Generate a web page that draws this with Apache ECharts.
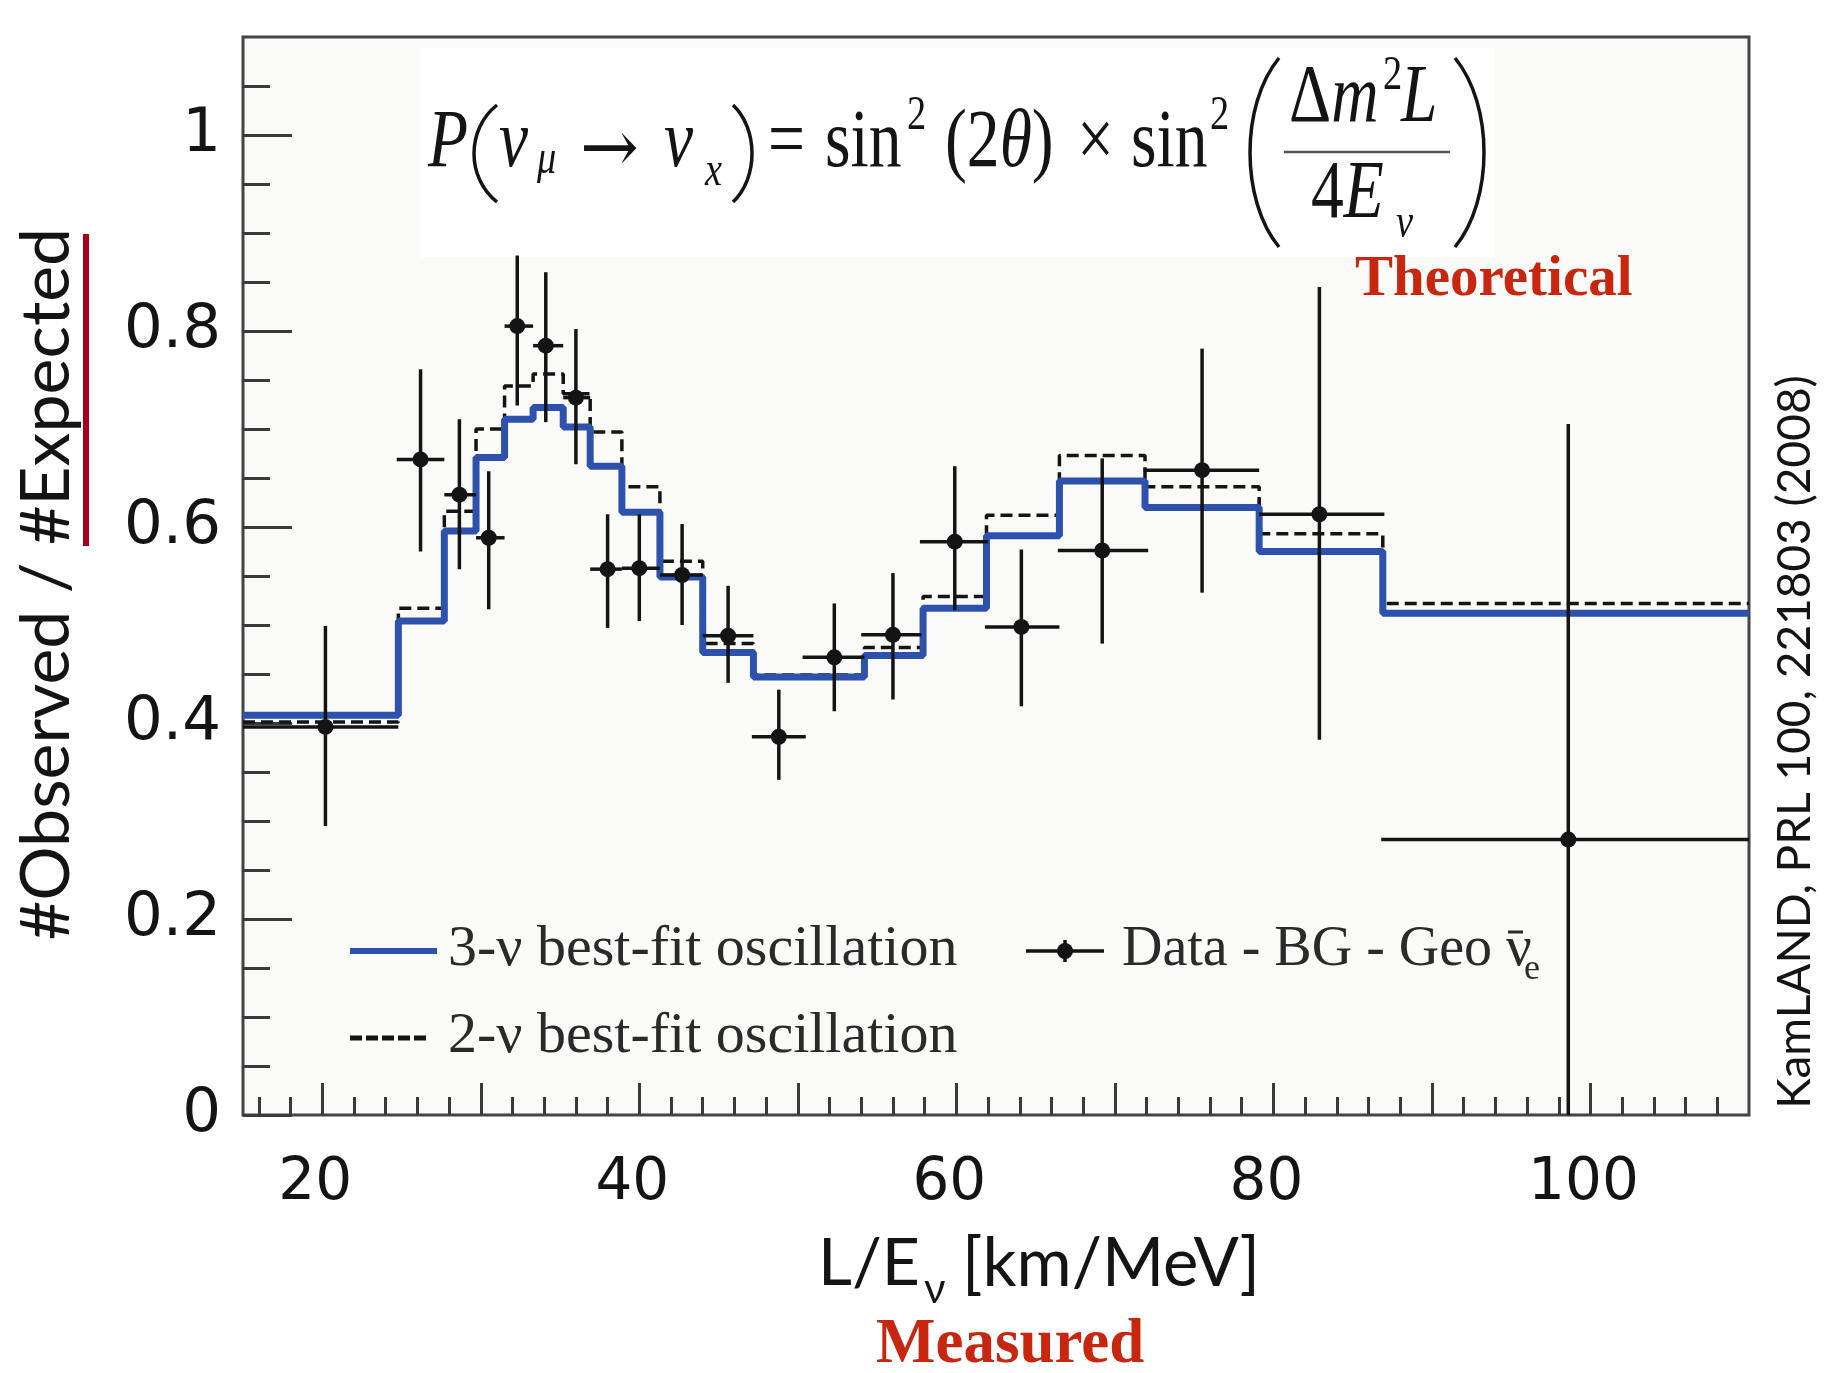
<!DOCTYPE html>
<html>
<head>
<meta charset="utf-8">
<script src="https://cdn.jsdelivr.net/npm/echarts@6/dist/echarts.min.js"></script>
<style>
  html, body { margin: 0; padding: 0; background: #ffffff; }
  #chart { width: 1832px; height: 1373px; }
</style>
</head>
<body>
<div id="chart"></div>
<script>
// KamLAND reactor anti-neutrino survival ratio versus L/E (km/MeV)

// Bin edges of the oscillation predictions
const binEdges = [15, 24.8, 27.7, 29.7, 31.5, 33.3, 35.2, 36.9, 38.9, 41.3, 44.0, 47.2, 54.2, 57.9, 61.9, 66.5, 71.9, 79.1, 86.9, 110];
// 3-flavour best fit, one value per bin
const threeNuFit = [0.408, 0.504, 0.596, 0.671, 0.710, 0.722, 0.702, 0.662, 0.615, 0.549, 0.472, 0.447, 0.469, 0.517, 0.591, 0.647, 0.620, 0.575, 0.512];
// 2-flavour best fit, one value per bin
const twoNuFit = [0.401, 0.517, 0.616, 0.700, 0.744, 0.756, 0.736, 0.697, 0.641, 0.565, 0.481, 0.449, 0.477, 0.529, 0.612, 0.673, 0.641, 0.593, 0.522];

// Data - BG - Geo anti-nu_e : central values and error-bar extents
const dataX   = [20.2, 26.2, 28.65, 30.5, 32.3, 34.1, 36.0, 38.0, 40.0, 42.7, 45.6, 48.8, 52.3, 56.0, 59.9, 64.1, 69.2, 75.5, 82.9, 98.6];
const dataY   = [0.396, 0.669, 0.633, 0.589, 0.805, 0.785, 0.732, 0.557, 0.558, 0.551, 0.489, 0.386, 0.467, 0.490, 0.585, 0.498, 0.576, 0.658, 0.613, 0.281];
const dataXLo = [15, 24.7, 27.7, 29.7, 31.5, 33.3, 35.2, 36.9, 38.9, 41.3, 44.0, 47.1, 50.3, 54.0, 57.7, 61.8, 66.4, 71.8, 79.1, 86.8];
const dataXHi = [24.8, 27.7, 29.7, 31.5, 33.3, 35.2, 36.9, 38.9, 41.3, 44.0, 47.2, 50.5, 54.2, 57.8, 62.0, 66.5, 72.1, 79.1, 87.0, 110];
const dataYLo = [0.295, 0.575, 0.557, 0.516, 0.724, 0.707, 0.664, 0.497, 0.504, 0.500, 0.441, 0.342, 0.412, 0.424, 0.515, 0.417, 0.481, 0.533, 0.383, 0];
const dataYHi = [0.499, 0.761, 0.710, 0.657, 0.877, 0.860, 0.802, 0.613, 0.613, 0.603, 0.540, 0.434, 0.522, 0.553, 0.662, 0.577, 0.670, 0.782, 0.845, 0.705];

// Axis ticks and labels
const xTickLabels = [20, 40, 60, 80, 100];
const xMajorTicks = [20, 30, 40, 50, 60, 70, 80, 90, 100];
const xMinorTicks = [16, 18, 22, 24, 26, 28, 32, 34, 36, 38, 42, 44, 46, 48, 52, 54, 56, 58, 62, 64, 66, 68, 72, 74, 76, 78, 82, 84, 86, 88, 92, 94, 96, 98, 102, 104, 106, 108];
const yTickLabels = [0, 0.2, 0.4, 0.6, 0.8, 1];
const yMajorTicks = [0, 0.2, 0.4, 0.6, 0.8, 1.0];
const yMinorTicks = [0.05, 0.1, 0.15, 0.25, 0.3, 0.35, 0.45, 0.5, 0.55, 0.65, 0.7, 0.75, 0.85, 0.9, 0.95, 1.05];

// histogram outline: a point at each left edge plus the closing right edge
function histogram(values) {
  return binEdges.map((e, i) => [e, values[Math.min(i, values.length - 1)]]);
}

const INK = '#141414';
const BLUE = '#2d51ad';
const SERIF = '"Liberation Serif", "Times New Roman", serif';
const SANS = 'Lato, "Open Sans", sans-serif';

function txt(x, y, text, size, opt) {
  opt = opt || {};
  return {
    type: 'text', x: x, y: y, z: 20,
    rotation: opt.rotation || 0,
    scaleX: opt.scaleX || 1,
    style: {
      text: text,
      fontSize: size,
      fontFamily: opt.family || SERIF,
      fontStyle: opt.italic ? 'italic' : 'normal',
      fontWeight: opt.bold ? 'bold' : 'normal',
      fill: opt.color || INK,
      align: opt.align || 'left',
      verticalAlign: 'middle',
      rich: opt.rich
    }
  };
}
function paren(x0, yTop, yBot, xBulge, w) {
  const cp = (xBulge - 0.25 * x0) / 0.75;
  return {
    type: 'bezierCurve', z: 20,
    shape: { x1: x0, y1: yTop, x2: x0, y2: yBot,
             cpx1: cp, cpy1: yTop + (yBot - yTop) * 0.25,
             cpx2: cp, cpy2: yTop + (yBot - yTop) * 0.75 },
    style: { stroke: INK, lineWidth: w || 3.5, fill: null }
  };
}

const F = 82, S = 48, SX = 0.8;
const richMain = {
  r: { fontFamily: SERIF, fontSize: F, fill: INK },
  i: { fontFamily: SERIF, fontSize: F, fontStyle: 'italic', fill: INK }
};
const LEG = '#2a2a2a';

const graphics = [
  // white panel behind the formula
  { type: 'rect', z: 1, shape: { x: 420, y: 48, width: 1074, height: 209 }, style: { fill: '#ffffff' } },

  // P(nu_mu -> nu_x) = sin^2(2theta) x sin^2( dm^2 L / 4E_nu )
  txt(428, 144, 'P', F, { italic: true, scaleX: SX }),
  paren(497, 105, 202, 474),
  txt(499, 144, 'ν', F, { italic: true, scaleX: SX }),
  txt(537, 160, 'μ', S, { italic: true, scaleX: SX }),
  txt(580, 153, '→', 74, { family: '"DejaVu Serif", serif', scaleX: 0.95 }),
  txt(664, 144, 'ν', F, { italic: true, scaleX: SX }),
  txt(705, 172, 'x', S, { italic: true, scaleX: SX }),
  paren(733, 105, 202, 752),
  txt(768, 144, '=', F, { scaleX: SX }),
  txt(825, 144, 'sin', F, { scaleX: SX }),
  txt(907, 116, '2', S, { scaleX: SX }),
  txt(945, 144, '{r|(2}{i|θ}{r|)}', F, { scaleX: SX, rich: richMain }),
  txt(1077, 144, '×', F, { scaleX: SX }),
  txt(1131, 144, 'sin', F, { scaleX: SX }),
  txt(1210, 116, '2', S, { scaleX: SX }),
  paren(1279, 58, 247, 1250),
  txt(1289, 99, '{r|Δ}{i|m}', F, { scaleX: SX, rich: richMain }),
  txt(1383, 76, '2', S, { scaleX: SX }),
  txt(1401, 99, 'L', F, { italic: true, scaleX: SX }),
  { type: 'line', z: 20, shape: { x1: 1284, y1: 152, x2: 1450, y2: 152 }, style: { stroke: '#555', lineWidth: 2.5 } },
  txt(1311, 195, '{r|4}{i|E}', F, { scaleX: SX, rich: richMain }),
  txt(1396, 224, 'ν', S, { italic: true, scaleX: SX }),
  paren(1455, 58, 247, 1484),

  // annotations
  txt(1355, 280, 'Theoretical', 57, { bold: true, color: '#c8260e' }),
  txt(876, 1346, 'Measured', 63, { bold: true, color: '#c8260e' }),

  // axis titles
  txt(47, 584, '#Observed / #Expected', 68, { family: SANS, align: 'center', rotation: Math.PI / 2 }),
  { type: 'rect', z: 20, shape: { x: 83, y: 234, width: 6, height: 312 }, style: { fill: '#a6001c' } },
  txt(818, 1264, 'L/E', 66, { family: SANS }),
  txt(924, 1289, 'ν', 42, { family: SANS }),
  txt(962, 1264, '[km/MeV]', 67, { family: SANS }),
  txt(1795, 742, 'KamLAND, PRL 100, 221803 (2008)', 46, { family: SANS, align: 'center', rotation: Math.PI / 2 }),

  // legend
  { type: 'line', z: 20, shape: { x1: 350, y1: 951, x2: 437, y2: 951 }, style: { stroke: BLUE, lineWidth: 6 } },
  txt(448, 950, '3-ν best-fit oscillation', 58, { color: LEG }),
  { type: 'line', z: 20, shape: { x1: 350, y1: 1038, x2: 430, y2: 1038 }, style: { stroke: INK, lineWidth: 5, lineDash: [12, 4] } },
  txt(448, 1037, '2-ν best-fit oscillation', 58, { color: LEG }),
  { type: 'line', z: 20, shape: { x1: 1026, y1: 951, x2: 1104, y2: 951 }, style: { stroke: INK, lineWidth: 3.5 } },
  { type: 'line', z: 20, shape: { x1: 1065, y1: 940, x2: 1065, y2: 962 }, style: { stroke: INK, lineWidth: 3.5 } },
  { type: 'circle', z: 20, shape: { cx: 1065, cy: 951, r: 8 }, style: { fill: INK } },
  txt(1122, 950, 'Data - BG - Geo', 56, { color: LEG }),
  txt(1506, 950, 'ν', 57, { color: LEG }),
  { type: 'line', z: 20, shape: { x1: 1508, y1: 932, x2: 1523, y2: 932 }, style: { stroke: LEG, lineWidth: 3 } },
  txt(1524, 970, 'e', 36, { color: LEG })
];

const chart = echarts.init(document.getElementById('chart'), null, { renderer: 'canvas' });

const tickStyle = { color: '#3a3a3a', width: 3 };

chart.setOption({
  animation: false,
  backgroundColor: '#ffffff',
  grid: {
    left: 243, top: 37, width: 1506, height: 1078,
    show: true, backgroundColor: '#fafbf9', borderColor: '#444444', borderWidth: 3
  },
  xAxis: [
    {
      type: 'value', min: 15, max: 110, position: 'bottom',
      axisLine: { show: false }, splitLine: { show: false },
      axisTick: { show: true, inside: true, length: 32, customValues: xMajorTicks, lineStyle: tickStyle },
      axisLabel: { customValues: xTickLabels, fontFamily: 'DejaVu Sans', fontSize: 58, color: INK, margin: 40, padding: [0, 14, 0, 0] }
    },
    {
      type: 'value', min: 15, max: 110, position: 'bottom',
      axisLine: { show: false }, splitLine: { show: false },
      axisTick: { show: true, inside: true, length: 18, customValues: xMinorTicks, lineStyle: tickStyle },
      axisLabel: { show: false }
    }
  ],
  yAxis: [
    {
      type: 'value', min: 0, max: 1.1, position: 'left',
      axisLine: { show: false }, splitLine: { show: false },
      axisTick: { show: true, inside: true, length: 49, customValues: yMajorTicks, lineStyle: tickStyle },
      axisLabel: {
        customValues: yTickLabels, fontFamily: 'DejaVu Sans', fontSize: 61, color: INK, margin: 22,
        formatter: v => (v === 0 ? '0' : v === 1 ? '1' : v.toFixed(1))
      }
    },
    {
      type: 'value', min: 0, max: 1.1, position: 'left',
      axisLine: { show: false }, splitLine: { show: false },
      axisTick: { show: true, inside: true, length: 27, customValues: yMinorTicks, lineStyle: tickStyle },
      axisLabel: { show: false }
    }
  ],
  series: [
    {
      name: '2-ν best-fit oscillation', type: 'line', step: 'end', z: 3,
      data: histogram(twoNuFit), symbol: 'none',
      lineStyle: { color: INK, width: 3.5, type: [12, 6] }
    },
    {
      name: '3-ν best-fit oscillation', type: 'line', step: 'end', z: 4,
      data: histogram(threeNuFit), symbol: 'none',
      lineStyle: { color: BLUE, width: 7 }
    },
    {
      name: 'Data - BG - Geo ν̄e', type: 'custom', z: 5,
      data: dataX.map((x, i) => [x, dataY[i], dataXLo[i], dataXHi[i], dataYLo[i], dataYHi[i]]),
      encode: { x: [0, 2, 3], y: [1, 4, 5] },
      renderItem: function (params, api) {
        const x = api.value(0), y = api.value(1);
        const c = api.coord([x, y]);
        const l = api.coord([api.value(2), y]);
        const r = api.coord([api.value(3), y]);
        const lo = api.coord([x, api.value(4)]);
        const hi = api.coord([x, api.value(5)]);
        const bar = { stroke: INK, lineWidth: 3.5 };
        return {
          type: 'group',
          children: [
            { type: 'line', shape: { x1: l[0], y1: c[1], x2: r[0], y2: c[1] }, style: bar },
            { type: 'line', shape: { x1: c[0], y1: hi[1], x2: c[0], y2: lo[1] }, style: bar },
            { type: 'circle', shape: { cx: c[0], cy: c[1], r: 8 }, style: { fill: INK } }
          ]
        };
      }
    }
  ],
  graphic: graphics
});
</script>
</body>
</html>
